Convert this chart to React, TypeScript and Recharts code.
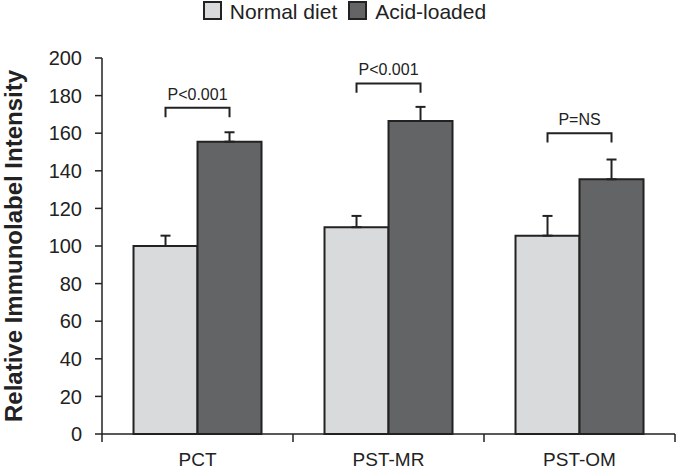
import React from 'react';
import {
    BarChart,
    Bar,
    XAxis,
    YAxis,
    Legend,
    ErrorBar,
    LabelList,
} from 'recharts';

const categories = ['PCT', 'PST-MR', 'PST-OM'];
const normalDiet = [100, 110, 105.5];
const acidLoaded = [155.5, 166.5, 135.5];
const normalErr = [5.5, 6, 10.5];
const acidErr = [5, 7.5, 10.5];
const bracketLevel = [173.5, 186.5, 160];
const pLabels = ['P<0.001', 'P<0.001', 'P=NS'];
const yTicks = [0, 20, 40, 60, 80, 100, 120, 140, 160, 180, 200];

const INK = '#222222';
const LIGHT = '#d9dadc';
const DARK = '#636466';
const FONT = 'Arial, "Liberation Sans", Helvetica, sans-serif';
const BRACKET_LEG = 5;

const data = categories.map((name, i) => ({
    name,
    normal: normalDiet[i],
    acid: acidLoaded[i],
    normalErr: [0, normalErr[i]],
    acidErr: [0, acidErr[i]],
}));

const CustomLegend = () => (
    <div style={{ display: 'flex', justifyContent: 'center', alignItems: 'flex-start', height: 24, paddingLeft: 14, fontFamily: FONT, fontSize: 21, color: INK }}>
        <span style={{ width: 15, height: 15, marginTop: 1, background: LIGHT, border: `2px solid ${INK}`, marginRight: 8 }}></span>
        <span style={{ marginRight: 11, lineHeight: '24px' }}>Normal diet</span>
        <span style={{ width: 15, height: 15, marginTop: 1, background: DARK, border: `2px solid ${INK}`, marginRight: 8 }}></span>
        <span style={{ lineHeight: '24px' }}>Acid-loaded</span>
    </div>
);

// category name at the band centre, short marks at the band borders
const CategoryTick = (props: any) => {
    const { x, y, payload, index, visibleTicksCount, width } = props;
    const half = payload && payload.offset ? payload.offset : width / visibleTicksCount / 2;
    const last = index === visibleTicksCount - 1;
    return (
        <g>
            <line x1={x - half} x2={x - half} y1={y} y2={y + 8} stroke={INK} strokeWidth={1.5} />
            {last && <line x1={x + half} x2={x + half} y1={y} y2={y + 8} stroke={INK} strokeWidth={1.5} />}
            <text x={x} y={y + 19} dy="0.71em" textAnchor="middle" fill={INK} fontSize={19} fontFamily={FONT}>
                {payload.value}
            </text>
        </g>
    );
};

const Bracket = (props: any) => {
    const { x, y, width, height, index } = props;
    if (index === undefined || !height) return null;
    const ppu = height / acidLoaded[index];
    const base = y + height;
    const by = base - bracketLevel[index] * ppu;
    const legY = by + BRACKET_LEG * ppu;
    const x1 = x - width / 2;
    const x2 = x + width / 2;
    return (
        <g>
            <path d={`M${x1},${legY}V${by}H${x2}V${legY}`} stroke={INK} strokeWidth={2} fill="none" />
            <text x={(x1 + x2) / 2} y={by - 8} textAnchor="middle" fill={INK} fontSize={16} fontFamily={FONT}>
                {pLabels[index]}
            </text>
        </g>
    );
};

export default function App() {
    return (
        <div style={{ position: 'absolute', left: 0, top: 0, width: 676, height: 474, background: '#fff' }}>
            <BarChart
                width={676}
                height={474}
                data={data}
                margin={{ top: 34, right: 1, left: 0, bottom: 0 }}
                barCategoryGap="16.5%"
                barGap={0}
            >
                <Legend verticalAlign="top" height={24} content={<CustomLegend />} wrapperStyle={{ top: 0 }} />
                <XAxis
                    dataKey="name"
                    height={40}
                    interval={0}
                    tickSize={0}
                    tickMargin={0}
                    tickLine={false}
                    axisLine={{ stroke: INK, strokeWidth: 1.5 }}
                    tick={<CategoryTick />}
                />
                <YAxis
                    width={102}
                    domain={[0, 200]}
                    ticks={yTicks}
                    interval={0}
                    tickSize={7}
                    tickMargin={13}
                    axisLine={{ stroke: INK, strokeWidth: 1.5 }}
                    tickLine={{ stroke: INK, strokeWidth: 1.5 }}
                    tick={{ fill: INK, fontSize: 20, fontFamily: FONT }}
                    label={{
                        value: 'Relative Immunolabel Intensity',
                        angle: -90,
                        position: 'insideLeft',
                        offset: 13,
                        style: { textAnchor: 'middle', fill: INK, fontSize: 24, fontWeight: 'bold', fontFamily: FONT },
                    }}
                />
                <Bar dataKey="normal" name="Normal diet" fill={LIGHT} stroke={INK} strokeWidth={2} isAnimationActive={false}>
                    <ErrorBar dataKey="normalErr" direction="y" width={5} stroke={INK} strokeWidth={2} />
                </Bar>
                <Bar dataKey="acid" name="Acid-loaded" fill={DARK} stroke={INK} strokeWidth={2} isAnimationActive={false}>
                    <ErrorBar dataKey="acidErr" direction="y" width={5} stroke={INK} strokeWidth={2} />
                    <LabelList dataKey="acid" content={<Bracket />} />
                </Bar>
            </BarChart>
        </div>
    );
}
